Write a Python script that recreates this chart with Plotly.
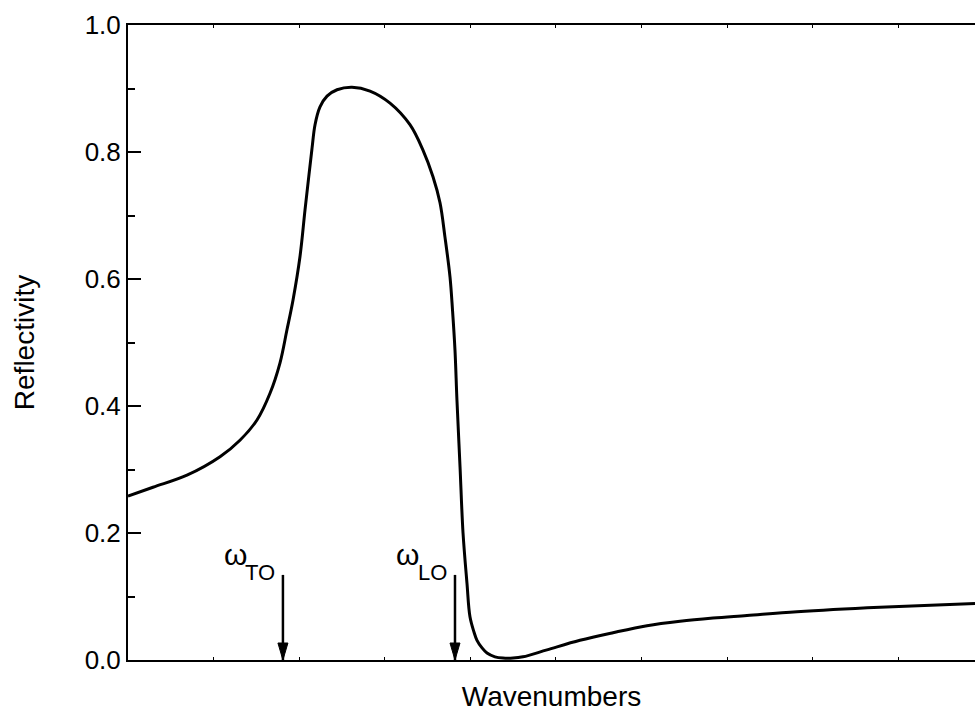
import plotly.graph_objects as go

# Reflectivity spectrum across the reststrahlen band (arbitrary wavenumber units)
wavenumber = [0.000, 0.292, 0.689, 1.075, 1.308, 1.507, 1.659, 1.776, 1.857, 1.928,
              2.009, 2.068, 2.114, 2.150, 2.185, 2.243, 2.325, 2.442, 2.617, 2.827,
              3.061, 3.294, 3.446, 3.563, 3.645, 3.703, 3.762, 3.791, 3.820, 3.843,
              3.879, 3.914, 3.960, 3.995, 4.042, 4.077, 4.136, 4.194, 4.287, 4.381,
              4.498, 4.614, 4.895, 5.280, 5.666, 6.063, 6.449, 6.834, 7.231, 7.815,
              8.785, 9.895]
reflectivity = [0.258, 0.272, 0.291, 0.320, 0.346, 0.378, 0.420, 0.468, 0.520, 0.567,
                0.635, 0.709, 0.764, 0.806, 0.843, 0.871, 0.888, 0.898, 0.902, 0.896,
                0.877, 0.843, 0.803, 0.761, 0.720, 0.666, 0.603, 0.551, 0.488, 0.409,
                0.304, 0.200, 0.121, 0.068, 0.044, 0.031, 0.019, 0.011, 0.005, 0.003,
                0.003, 0.005, 0.016, 0.031, 0.043, 0.054, 0.061, 0.066, 0.070, 0.076,
                0.083, 0.089]

# Phonon frequencies marked with arrows
mode_names = ["TO", "LO"]
mode_positions = [1.81, 3.82]
arrow_top = 0.134

y_ticks = [0.0, 0.2, 0.4, 0.6, 0.8, 1.0]
y_ticklabels = ["0.0", "0.2", "0.4", "0.6", "0.8", "1.0"]
x_range = [0.0, 9.895]

FONT = "Liberation Sans, Arial, sans-serif"
HEAD_W, HEAD_L = 5, 17  # arrowhead half-width and length in pixels

fig = go.Figure()
fig.add_trace(go.Scatter(
    x=wavenumber, y=reflectivity, mode="lines",
    line=dict(color="black", width=3, shape="spline", smoothing=1.0),
    hoverinfo="skip", showlegend=False,
))

shapes = []
annotations = []
for name, pos in zip(mode_names, mode_positions):
    # shaft
    shapes.append(dict(
        type="line", xref="x", yref="y", x0=pos, x1=pos, y0=arrow_top, y1=0,
        line=dict(color="black", width=2.5), layer="above",
    ))
    # arrowhead, sized in pixels and anchored at the tip
    shapes.append(dict(
        type="path", xref="x", yref="y", xsizemode="pixel", ysizemode="pixel",
        xanchor=pos, yanchor=0,
        path=f"M{-HEAD_W},{HEAD_L} L{HEAD_W},{HEAD_L} L0,0 Z",
        fillcolor="black", line=dict(color="black", width=1), layer="above",
    ))
    # label: omega with subscript
    annotations.append(dict(
        x=pos, y=arrow_top, xref="x", yref="y", xanchor="left", yanchor="middle",
        xshift=-61, yshift=20, text="ω", showarrow=False,
        font=dict(family=FONT, size=30, color="black"),
    ))
    annotations.append(dict(
        x=pos, y=arrow_top, xref="x", yref="y", xanchor="right", yanchor="middle",
        xshift=-6, yshift=2, text=name, showarrow=False,
        font=dict(family=FONT, size=22, color="black"),
    ))

fig.update_layout(
    width=975, height=713,
    margin=dict(l=128, r=0, t=25, b=53),
    paper_bgcolor="white", plot_bgcolor="white",
    font=dict(family=FONT, size=26, color="black"),
    shapes=shapes,
    annotations=annotations,
    xaxis=dict(
        range=x_range, showgrid=False, zeroline=False,
        showline=True, linecolor="black", linewidth=2, mirror="ticks",
        ticks="inside", tickmode="linear", tick0=0, dtick=1, ticklen=3,
        tickwidth=1, tickcolor="black", showticklabels=False,
        title=dict(text="Wavenumbers", standoff=25, font=dict(size=28)),
    ),
    yaxis=dict(
        range=[0, 1.0], showgrid=False, zeroline=False,
        showline=True, linecolor="black", linewidth=2, mirror=False,
        ticks="inside", tickvals=y_ticks, ticktext=y_ticklabels, ticklen=13,
        tickwidth=2, tickcolor="black",
        minor=dict(ticks="inside", dtick=0.1, tick0=0, ticklen=7, tickwidth=2,
                   tickcolor="black", showgrid=False),
        title=dict(text="Reflectivity", standoff=42, font=dict(size=28)),
    ),
)

fig.write_html("out.html")
